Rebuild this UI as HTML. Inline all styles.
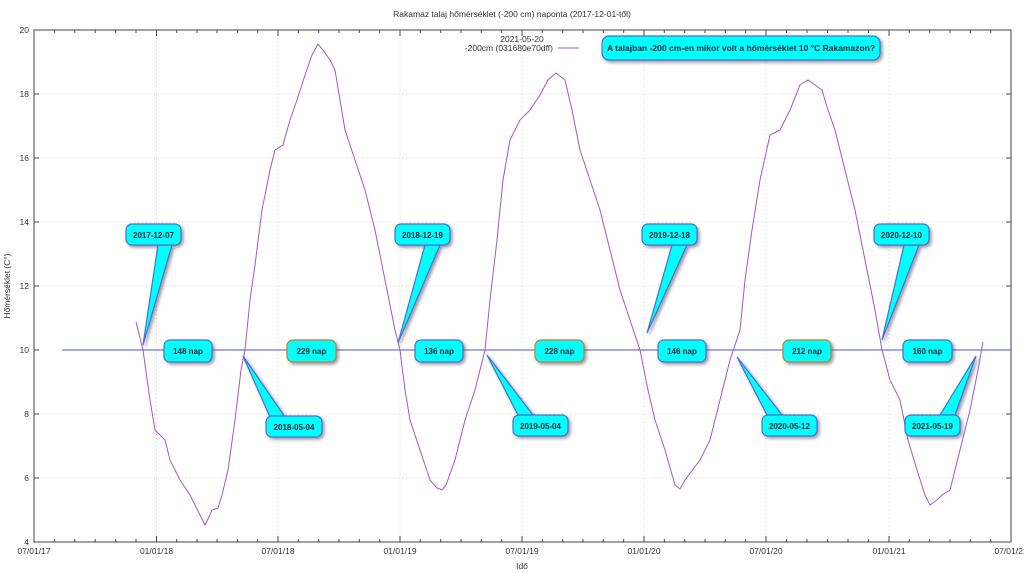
<!DOCTYPE html>
<html><head><meta charset="utf-8"><style>body{margin:0;background:#fff}svg{display:block;font-family:"Liberation Sans",sans-serif}</style></head><body>
<svg width="1024" height="573" viewBox="0 0 1024 573" xmlns="http://www.w3.org/2000/svg">
<defs><filter id="sh" x="-20%" y="-30%" width="150%" height="170%"><feDropShadow dx="2" dy="2" stdDeviation="1.5" flood-color="#556" flood-opacity="0.6"/></filter></defs>
<rect width="1024" height="573" fill="#fff"/>
<g stroke="#ccc" stroke-dasharray="1,3" stroke-width="1">
<line x1="34" x2="1011" y1="94" y2="94"/><line x1="34" x2="1011" y1="158" y2="158"/><line x1="34" x2="1011" y1="222" y2="222"/><line x1="34" x2="1011" y1="286" y2="286"/><line x1="34" x2="1011" y1="414" y2="414"/><line x1="34" x2="1011" y1="478" y2="478"/>
<line x1="156.5" x2="156.5" y1="30" y2="542"/><line x1="278" x2="278" y1="30" y2="542"/><line x1="400" x2="400" y1="30" y2="542"/><line x1="522" x2="522" y1="30" y2="542"/><line x1="644" x2="644" y1="30" y2="542"/><line x1="766" x2="766" y1="30" y2="542"/><line x1="889" x2="889" y1="30" y2="542"/>
</g>
<rect x="34" y="30" width="977" height="512" fill="none" stroke="#444" stroke-width="1"/>
<g stroke="#444" stroke-width="1">
<path d="M54.4 542v-3M74.8 542v-3M95.2 542v-3M115.6 542v-3M136 542v-3M156.5 542v-6M176.7 542v-3M197 542v-3M217 542v-3M237.5 542v-3M257.7 542v-3M278 542v-6M298.3 542v-3M318.7 542v-3M339 542v-3M359.3 542v-3M379.7 542v-3M400 542v-6M420.3 542v-3M440.7 542v-3M461 542v-3M481.3 542v-3M501.7 542v-3M522 542v-6M542.3 542v-3M562.7 542v-3M583 542v-3M603.3 542v-3M623.7 542v-3M644 542v-6M664.3 542v-3M684.7 542v-3M705 542v-3M725.3 542v-3M745.7 542v-3M766 542v-6M786.5 542v-3M807 542v-3M827.5 542v-3M848 542v-3M868.5 542v-3M889 542v-6M909.3 542v-3M929.7 542v-3M950 542v-3M970.3 542v-3M990.7 542v-3"/>
<path d="M54.4 30v3M74.8 30v3M95.2 30v3M115.6 30v3M136 30v3M156.5 30v6M176.7 30v3M197 30v3M217 30v3M237.5 30v3M257.7 30v3M278 30v6M298.3 30v3M318.7 30v3M339 30v3M359.3 30v3M379.7 30v3M400 30v6M420.3 30v3M440.7 30v3M461 30v3M481.3 30v3M501.7 30v3M522 30v6M542.3 30v3M562.7 30v3M583 30v3M603.3 30v3M623.7 30v3M644 30v6M664.3 30v3M684.7 30v3M705 30v3M725.3 30v3M745.7 30v3M766 30v6M786.5 30v3M807 30v3M827.5 30v3M848 30v3M868.5 30v3M889 30v6M909.3 30v3M929.7 30v3M950 30v3M970.3 30v3M990.7 30v3"/>
<path d="M34 94h5M34 158h5M34 222h5M34 286h5M34 350h5M34 414h5M34 478h5M1011 94h-5M1011 158h-5M1011 222h-5M1011 286h-5M1011 350h-5M1011 414h-5M1011 478h-5"/>
</g>
<g font-size="8.5" fill="#333" text-anchor="end">
<text x="29" y="33">20</text><text x="29" y="97">18</text><text x="29" y="161">16</text><text x="29" y="225">14</text><text x="29" y="289">12</text><text x="29" y="353">10</text><text x="29" y="417">8</text><text x="29" y="481">6</text><text x="29" y="545">4</text>
</g>
<g font-size="8.5" fill="#333" text-anchor="middle">
<text x="34" y="554">07/01/17</text><text x="156.5" y="554">01/01/18</text><text x="278" y="554">07/01/18</text><text x="400" y="554">01/01/19</text><text x="522" y="554">07/01/19</text><text x="644" y="554">01/01/20</text><text x="766" y="554">07/01/20</text><text x="889" y="554">01/01/21</text><text x="1011" y="554">07/01/21</text>
<text x="522" y="569">Idő</text>
<text x="512" y="17">Rakamaz talaj hőmérséklet (-200 cm) naponta (2017-12-01-től)</text>
<text x="522" y="42">2021-05-20</text>
</g>
<text x="10" y="286" font-size="8.5" fill="#333" text-anchor="middle" transform="rotate(-90 10 286)">Hőmérséklet (C°)</text>
<text x="553" y="51" font-size="8.5" fill="#333" text-anchor="end">-200cm (031680e70dff)</text>
<line x1="558" x2="579" y1="48" y2="48" stroke="#9a5cc0" stroke-width="1"/>
<line x1="62" x2="1011" y1="350" y2="350" stroke="#5050c0" stroke-width="1"/>
<polyline fill="none" stroke="#9a5cc0" stroke-width="1" points="136,322 143,350 150,400 155,430 165,440 170,460 180,480 190,495 200,515 205,525 208,519 212,510 218,508 222,495 228,470 235,420 241,370 245,350 250,300 255,265 262,210 270,170 275,150 283,145 290,120 297,100 305,75 312,55 318,44 323,50 330,60 335,70 340,100 345,130 355,160 365,190 375,230 385,280 395,330 400,350 405,390 410,420 420,450 430,480 437,488 442,490 446,485 455,460 465,420 475,390 485,350 490,300 497,240 503,180 510,140 520,120 530,110 540,95 548,80 556,73 565,80 572,110 580,150 590,180 600,210 610,250 620,290 630,320 640,350 648,390 655,420 665,450 675,485 680,489 685,480 700,460 710,440 720,400 730,360 740,330 745,280 752,230 760,180 770,135 780,130 790,110 800,85 808,80 815,85 822,90 828,110 835,130 845,170 855,210 865,260 875,310 882,350 890,380 900,400 908,440 917,470 925,495 930,505 937,500 942,495 950,490 955,470 960,450 970,410 978,370 983,342"/>
<g fill="#00ffff" stroke="#4a70d0" stroke-width="1.2" filter="url(#sh)">
<path d="M158,245 L172,245 L143,345 Z"/>
<path d="M270,417 L285,417 L243,356 Z"/>
<path d="M425,245 L440,245 L398,343 Z"/>
<path d="M518,415 L533,415 L487,355 Z"/>
<path d="M672,245 L687,245 L647,333 Z"/>
<path d="M767,415 L782,415 L737,357 Z"/>
<path d="M904,245 L919,245 L882,340 Z"/>
<path d="M940,415 L955,415 L976,356 Z"/>
<rect x="126" y="224" width="55" height="21" rx="6"/>
<rect x="164" y="340" width="48" height="22" rx="6"/>
<rect x="287" y="340" width="49" height="22" rx="6" stroke="#c08030"/>
<rect x="266" y="416" width="56" height="21" rx="6"/>
<rect x="395" y="224" width="55" height="21" rx="6"/>
<rect x="415" y="340" width="48" height="22" rx="6"/>
<rect x="535" y="340" width="49" height="22" rx="6" stroke="#c08030"/>
<rect x="513" y="415" width="55" height="21" rx="6"/>
<rect x="642" y="224" width="55" height="21" rx="6"/>
<rect x="658" y="340" width="48" height="22" rx="6"/>
<rect x="783" y="340" width="48" height="22" rx="6" stroke="#c08030"/>
<rect x="762" y="415" width="55" height="21" rx="6"/>
<rect x="874" y="224" width="55" height="21" rx="6"/>
<rect x="903" y="340" width="49" height="22" rx="6"/>
<rect x="905" y="415" width="55" height="21" rx="6"/>
<rect x="602" y="36" width="278" height="24" rx="7"/>
</g>
<g font-size="8" font-weight="bold" fill="#123" text-anchor="middle">
<text x="153.5" y="238">2017-12-07</text><text x="188" y="354">148 nap</text><text x="311.5" y="354">229 nap</text><text x="294" y="430">2018-05-04</text>
<text x="422.5" y="238">2018-12-19</text><text x="439" y="354">136 nap</text><text x="559.5" y="354">228 nap</text><text x="540.5" y="429">2019-05-04</text>
<text x="669.5" y="238">2019-12-18</text><text x="682" y="354">146 nap</text><text x="807" y="354">212 nap</text><text x="789.5" y="429">2020-05-12</text>
<text x="901.5" y="238">2020-12-10</text><text x="927.5" y="354">160 nap</text><text x="932.5" y="429">2021-05-19</text>
<text x="741" y="51" font-size="8.5">A talajban -200 cm-en mikor volt a hőmérséklet 10 °C Rakamazon?</text>
</g>
</svg>
</body></html>
